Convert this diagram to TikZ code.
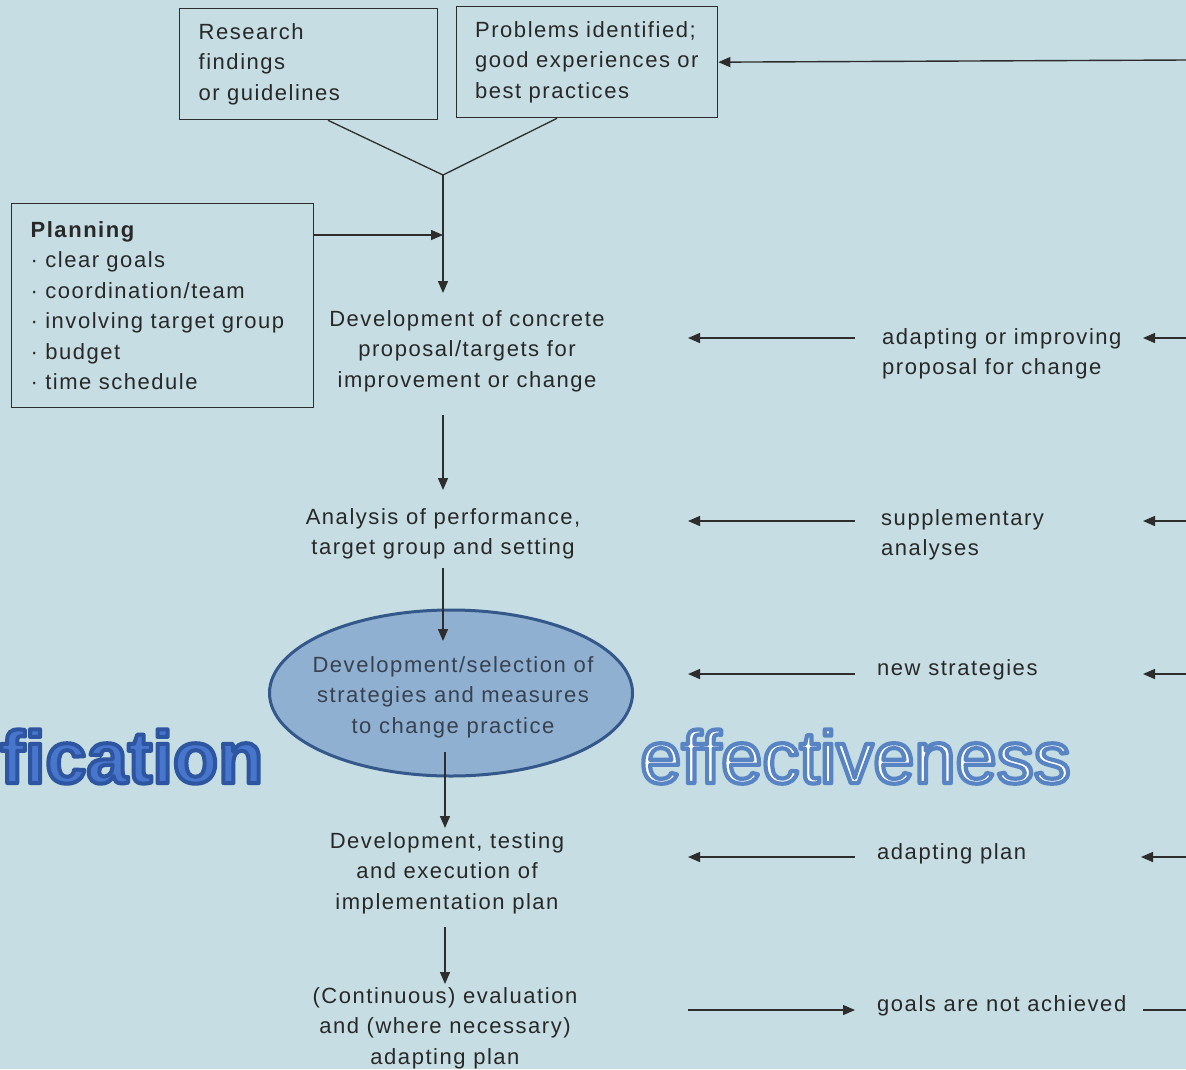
\documentclass[tikz,border=0pt]{standalone}
\usepackage{fontspec}
\setmainfont{Liberation Sans}[LetterSpace=7]
\newfontfamily\bigf{Liberation Sans}
\usetikzlibrary{arrows.meta,shapes.geometric}
\definecolor{bg}{RGB}{197,221,227}
\definecolor{ln}{RGB}{45,45,45}
\definecolor{tc}{RGB}{40,40,40}
\definecolor{ellfill}{RGB}{143,176,208}
\definecolor{elldraw}{RGB}{52,88,138}
\definecolor{elltext}{RGB}{55,65,80}
\definecolor{ffill}{RGB}{72,118,205}
\newcommand{\strokedtext}[3]{\special{pdf:literal direct 2 Tr 1 j #2 w #1 RG}#3\special{pdf:literal direct 0 Tr}}
\begin{document}
\begin{tikzpicture}[x=1pt,y=-1pt,
  every node/.style={font=\fontsize{22}{30.5}\selectfont, text=tc},
  box/.style={draw=ln, line width=1.3pt, inner ysep=0pt, align=left, anchor=north west},
  txt/.style={align=center, inner sep=0pt},
  rtxt/.style={align=left, inner sep=0pt, anchor=west},
  arr/.style={draw=ln, line width=1.4pt, -{Triangle[length=12pt,width=10pt]}},
  con/.style={draw=ln, line width=1.3pt},
  bigtxt/.style={font=\bigf\fontsize{74}{80}\selectfont, inner sep=0pt, anchor=base west},
  bigbold/.style={font=\bigf\bfseries\fontsize{74}{80}\selectfont, inner sep=0pt, anchor=base west}]
\fill[bg] (0,0) rectangle (1186,1069);
\useasboundingbox (0,0) rectangle (1186,1069);

% big words
\node[bigbold, text=ffill] (fic) at (0,783) {\strokedtext{0.176 0.333 0.627}{4}{fication}};
\node[bigtxt, text=white] (eff) at (640,783) {\strokedtext{0.345 0.518 0.769}{4.2}{effectiveness}};

% top boxes
\node[box, inner xsep=19pt, text width=220pt, minimum height=111pt] (R) at (179,8) {Research\\findings\\or guidelines};
\node[box, inner xsep=0pt, text width=236pt, minimum width=261pt, minimum height=111pt] (P) at (456,6) {\hspace*{6pt}Problems identified;\\\hspace*{6pt}good experiences or\\\hspace*{6pt}best practices};
\node[box, inner xsep=19pt, text width=264pt, minimum height=204pt] (Pl) at (11,203)
  {{\bfseries Planning}\\· clear goals\\· coordination/team\\· involving target group\\· budget\\· time schedule};

\coordinate (m) at (443,175);
\coordinate (pj) at (443,235);
\draw[con] ([xshift=149pt]R.south west) -- (m) -- ([xshift=101pt]P.south west);

% main column
\node[txt] (d1) at (467,351) {Development of concrete\\proposal/targets for\\improvement or change};
\node[txt] (d2) at (443,534) {Analysis of performance,\\target group and setting};
\node[ellipse, draw=elldraw, line width=3pt, fill=ellfill, minimum width=363pt, minimum height=166pt, inner sep=0pt] (d3) at (451,693) {};
\node[txt, text=elltext] (d3t) at (453,697) {Development/selection of\\strategies and measures\\to change practice};
\node[txt] (d4) at (447,873) {Development, testing\\and execution of\\implementation plan};
\node[txt] (d5) at (445,1028) {(Continuous) evaluation\\and (where necessary)\\adapting plan};

\coordinate (a1) at (443,293);
\coordinate (b1) at (443,415); \coordinate (b2) at (443,490);
\coordinate (c1) at (443,568); \coordinate (c2) at (443,641);
\coordinate (e1) at (445,752); \coordinate (e2) at (445,828);
\coordinate (f1) at (445,927); \coordinate (f2) at (445,984);

\draw[arr] (m) -- (a1);
\draw[arr] (Pl.east |- pj) -- (pj);
\draw[arr] (b1) -- (b2);
\draw[arr] (c1) -- (c2);
\draw[arr] (e1) -- (e2);
\draw[arr] (f1) -- (f2);

% right column
\node[rtxt] (r1) at (882,354) {adapting or improving\\proposal for change};
\node[rtxt] (r2) at (881,535) {supplementary\\analyses};
\node[rtxt] (r3) at (877,670) {new strategies};
\node[rtxt] (r4) at (877,854) {adapting plan};
\node[rtxt] (r5) at (877,1006) {goals are not achieved};

\foreach \n/\y/\e in {1/338/1143,2/521/1143,3/674/1143,4/857/1141}{
  \coordinate (ra\n) at (855,\y);
  \coordinate (rb\n) at (688,\y);
  \coordinate (rc\n) at (1186,\y);
  \coordinate (rd\n) at (\e,\y);
  \draw[arr] (ra\n) -- (rb\n);
  \draw[arr] (rc\n) -- (rd\n);
}
\coordinate (ga) at (688,1010); \coordinate (gb) at (855,1010);
\coordinate (gc) at (1143,1010); \coordinate (gd) at (1186,1010);
\draw[arr] (ga) -- (gb);
\draw[con] (gc) -- (gd);
\coordinate (tr) at (1186,60);
\draw[arr] (tr) -- (P.east);
\end{tikzpicture}
\end{document}
